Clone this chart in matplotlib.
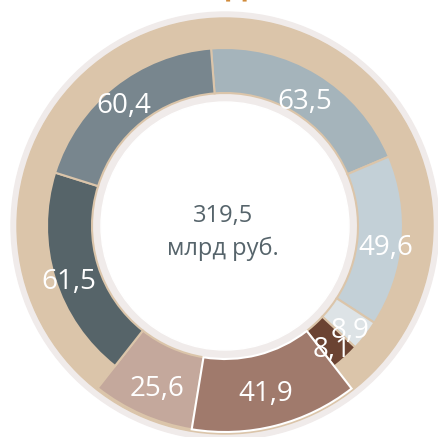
import matplotlib.pyplot as plt
from matplotlib.patches import Circle
import numpy as np

plt.rcParams["font.family"] = ["Open Sans", "DejaVu Sans"]

# доходы по статьям, млрд руб.
значения = [63.5, 49.6, 8.9, 8.1, 41.9, 25.6, 61.5, 60.4]
подписи = ["63,5", "49,6", "8,9", "8,1", "41,9", "25,6", "61,5", "60,4"]
цвета = ["#a5b4bb", "#c3d0d7", "#dde3e6", "#6b4332",
         "#a07a6c", "#c4a89c", "#566469", "#78868e"]
итого = "319,5"
единица = "млрд руб."
заголовок = "Доля статей"

беж = "#dbc5aa"
серый = "#f0ebea"

fig = plt.figure(figsize=(4.38, 4.37), dpi=100)
ax = fig.add_axes([0, 0, 1, 1])

ax.add_patch(Circle((0, 0), 214, color=серый, zorder=0))
ax.add_patch(Circle((0, 0), 208, color=беж, zorder=1))
ax.add_patch(Circle((0, 0), 134, color=серый, zorder=1))

клинья, _ = ax.pie(
    значения,
    radius=178,
    startangle=94.5,
    counterclock=False,
    colors=цвета,
    wedgeprops=dict(width=45, edgecolor=беж, linewidth=1.5, zorder=2),
)
# коричневые сектора выходят на внешнее кольцо
for i in (4, 5):
    клинья[i].set_radius(206)
    клинья[i].set_width(73)
клинья[4].set_edgecolor("white")
клинья[4].set_zorder(3)

ax.add_patch(Circle((0, 0), 124, color="white", zorder=4))

радиусы = [154, 161, 158, 158, 166, 170, 164, 163]
for клин, текст, r in zip(клинья, подписи, радиусы):
    угол = np.deg2rad((клин.theta1 + клин.theta2) / 2)
    ax.text(r * np.cos(угол), r * np.sin(угол) - 4, текст, color="white",
            fontsize=20, ha="center", va="center_baseline", zorder=5)

ax.text(-2, 13, итого, color="#56646b", fontsize=17,
        ha="center", va="center_baseline", zorder=5)
ax.text(-2, -20, единица, color="#56646b", fontsize=17,
        ha="center", va="center_baseline", zorder=5)

ax.text(1, 230.5, заголовок, color="#d08a3a", fontsize=20, fontweight="bold",
        ha="left", va="baseline", zorder=5)

ax.set_xlim(-225, 213)
ax.set_ylim(-211, 226)
ax.set_aspect("auto")
ax.axis("off")

fig.savefig("out.png", dpi=100)
